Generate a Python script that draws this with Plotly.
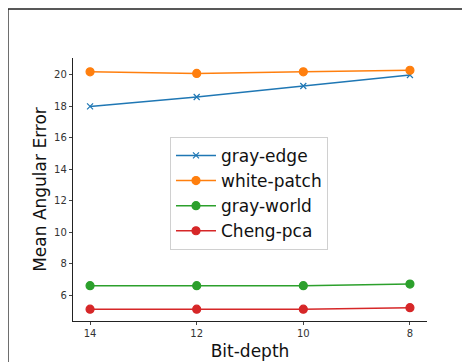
import plotly.graph_objects as go

bit_depth = [14, 12, 10, 8]
gray_edge = [18.0, 18.6, 19.3, 20.0]
white_patch = [20.2, 20.1, 20.2, 20.3]
gray_world = [6.6, 6.6, 6.6, 6.7]
cheng_pca = [5.1, 5.1, 5.1, 5.2]
y_ticks = [6, 8, 10, 12, 14, 16, 18, 20]

series = [
    ("gray-edge", gray_edge, "#1f77b4", "x-thin"),
    ("white-patch", white_patch, "#ff7f0e", "circle"),
    ("gray-world", gray_world, "#2ca02c", "circle"),
    ("Cheng-pca", cheng_pca, "#d62728", "circle"),
]

fig = go.Figure()
for name, vals, color, sym in series:
    fig.add_trace(go.Scatter(
        x=bit_depth, y=vals, name=name, mode="lines+markers",
        line=dict(color=color, width=1.5),
        marker=dict(symbol=sym, size=8 if sym == "circle" else 6, color=color,
                    line=dict(color=color, width=1.2)),
    ))

fig.update_layout(
    width=470, height=362,
    margin=dict(l=65, r=51, t=50, b=49, autoexpand=False),
    paper_bgcolor="white", plot_bgcolor="white",
    font=dict(family="DejaVu Sans", color="#222"),
    showlegend=True,
    legend=dict(x=0.274, y=0.70, xanchor="left", yanchor="top",
                font=dict(size=17, color="#111"),
                bordercolor="#d0d0d0", borderwidth=1, bgcolor="rgba(255,255,255,0.8)",
                tracegroupgap=0, itemwidth=40),
    xaxis=dict(range=[14.32, 7.68], tickvals=bit_depth, showline=True, linecolor="#222",
               linewidth=1.3, ticks="outside", ticklen=3, tickcolor="#444", automargin=False,
               showgrid=False, zeroline=False, tickfont=dict(size=10, color="#333"),
               title=dict(text="Bit-depth", font=dict(size=17, color="#111"), standoff=6)),
    yaxis=dict(range=[4.35, 21.08], tickvals=y_ticks, showline=True, linecolor="#222",
               linewidth=1.3, ticks="outside", ticklen=3, tickcolor="#444", automargin=False,
               showgrid=False, zeroline=False, tickfont=dict(size=10, color="#333"),
               title=dict(text="Mean Angular Error", font=dict(size=17, color="#111"), standoff=3)),
    shapes=[dict(type="rect", xref="paper", yref="paper",
                 x0=-0.1836, x1=1.2, y0=-0.2, y1=1.1863,
                 line=dict(color="#222", width=1.3), fillcolor="rgba(0,0,0,0)", layer="below")],
)

fig.write_html("out.html")
